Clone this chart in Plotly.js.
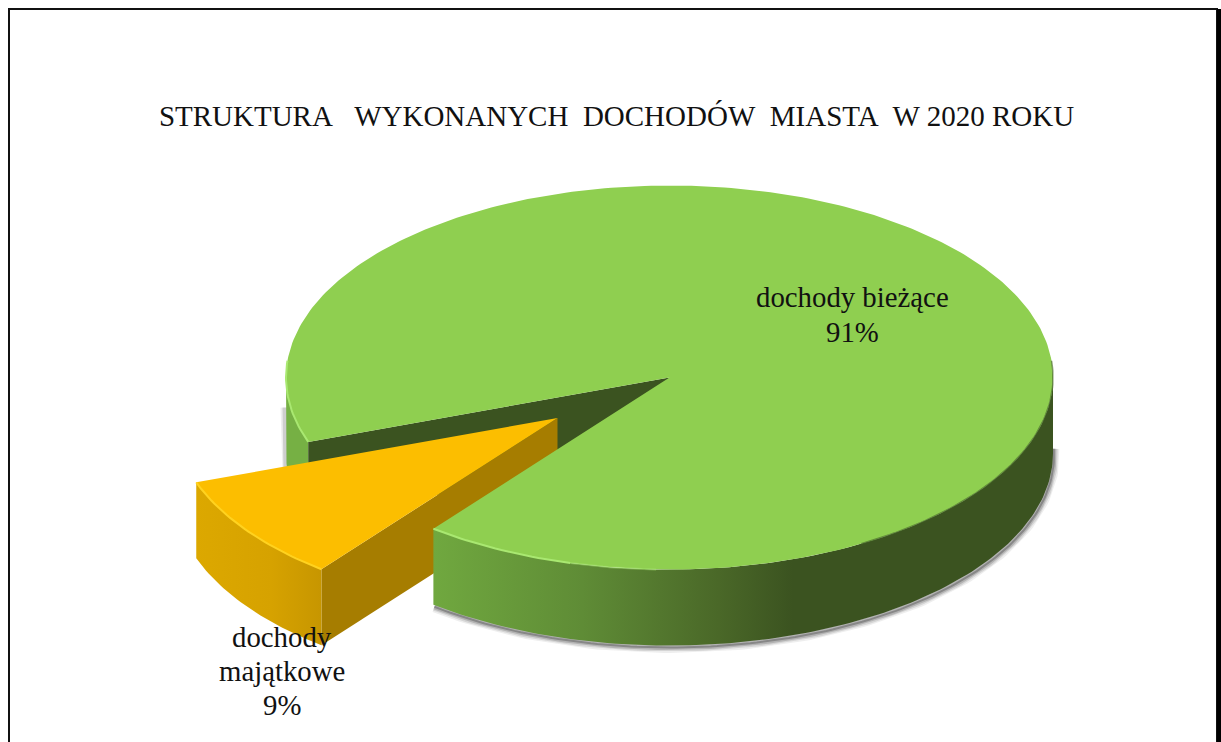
<!DOCTYPE html>
<html><head><meta charset="utf-8">
<script src="https://cdn.plot.ly/plotly-3.0.1.min.js"></script>
<style>html,body{margin:0;padding:0;background:#fff;overflow:hidden}#c{width:1221px;height:742px}</style>
</head><body><div id="c"></div>
<script>
// ---- data ----
const categories = ["dochody bieżące", "dochody majątkowe"];
const labelLines = [["dochody bieżące", "91%"], ["dochody", "majątkowe", "9%"]];
const values = [91, 9];
const chartTitle = "STRUKTURA\u00A0\u00A0 WYKONANYCH\u00A0 DOCHODÓW\u00A0 MIASTA\u00A0 W 2020 ROKU";

// ---- projection of the tilted pie onto the page ----
const CX = 669.5, CY = 377.5, RX = 383.5, RY = 192, DEPTH = 76, PULL = 0.36, START = 128;
const total = values.reduce((a, b) => a + b, 0);
const goldSweep = values[1] / total * 360;
const gold0 = START, gold1 = START + goldSweep, goldMid = (gold0 + gold1) / 2;
const green0 = gold1, green1 = START + 360;
const rad = d => d * Math.PI / 180;
const goldCX = CX + PULL * RX * Math.cos(rad(goldMid));
const goldCY = CY + PULL * RY * Math.sin(rad(goldMid));

function pt(cx, cy, a, dy = 0) { return [cx + RX * Math.cos(rad(a)), cy + RY * Math.sin(rad(a)) + dy]; }
function arc(cx, cy, a0, a1, dy = 0) {
  const out = [], n = Math.max(2, Math.ceil(Math.abs(a1 - a0)));
  for (let i = 0; i <= n; i++) out.push(pt(cx, cy, a0 + (a1 - a0) * i / n, dy));
  return out;
}
function poly(points, color, extra = {}) {
  return Object.assign({ type: 'scatter', mode: 'lines', x: points.map(p => p[0]), y: points.map(p => p[1]),
    fill: 'toself', fillcolor: color, line: { width: 0, color: color }, hoverinfo: 'skip', showlegend: false }, extra);
}
function stroke(points, color, width, dx = 0, dy = 0) {
  return { type: 'scatter', mode: 'lines', x: points.map(p => p[0] + dx), y: points.map(p => p[1] + dy),
    line: { color: color, width: width, shape: 'linear' }, hoverinfo: 'skip', showlegend: false };
}
function wall(cx, cy, a0, a1) { return arc(cx, cy, a0, a1).concat(arc(cx, cy, a1, a0, DEPTH)); }

const traces = [];
// soft shadow under the green slice
const shadowArc = arc(CX, CY, -2, 128, DEPTH);
[[11, 'rgba(90,90,90,0.10)'], [8, 'rgba(90,90,90,0.16)'], [5, 'rgba(80,80,80,0.25)'], [2, 'rgba(70,70,70,0.40)']]
  .forEach(s => traces.push(stroke(shadowArc, s[1], s[0], 1, 2)));
const leftShadow = [pt(CX, CY, 180, 30)].concat(arc(CX, CY, 180, 172, DEPTH));
[[9, 'rgba(90,90,90,0.10)'], [5, 'rgba(80,80,80,0.20)']].forEach(s => traces.push(stroke(leftShadow, s[1], s[0], -1, 0)));

// green left wall
traces.push(poly(wall(CX, CY, green0, 180), '#76B044'));
// green cut face seen through the gap
const nCorner = pt(CX, CY, green0);
traces.push(poly([[CX, CY], nCorner, [nCorner[0], nCorner[1] + DEPTH], [CX, CY + DEPTH]], '#3B5320'));

// gold slice: cut face, outer wall, top
const g0 = pt(goldCX, goldCY, gold0), g1 = pt(goldCX, goldCY, gold1);
traces.push(poly([[goldCX, goldCY], g0, [g0[0], g0[1] + DEPTH], [goldCX, goldCY + DEPTH]], '#A67D00'));
traces.push(poly(wall(goldCX, goldCY, gold0, gold1), '#D2A000', {
  fillgradient: { type: 'horizontal', colorscale: [[0, '#DCA800'], [0.6, '#D6A200'], [1, '#C79600']] } }));
traces.push(poly([[goldCX, goldCY]].concat(arc(goldCX, goldCY, gold0, gold1)), '#FCBE00'));
traces.push(stroke(arc(goldCX, goldCY, gold0, gold1), '#FFD21F', 2));

// green front wall
traces.push(poly(wall(CX, CY, 0, 128), '#3B5320', {
  fillgradient: { type: 'horizontal', colorscale: [
    [0, '#70A83F'], [0.24, '#5F8C36'], [0.46, '#4A6828'], [0.58, '#3B5320'], [1, '#3B5320']] } }));

// green top
traces.push(poly([[CX, CY]].concat(arc(CX, CY, green0, green1)), '#8FCF50'));
// rims
traces.push(stroke(arc(CX, CY, 128, 105), '#A9E871', 2));
traces.push(stroke(arc(CX, CY, 105, 92), 'rgba(169,232,113,0.45)', 2));
traces.push(stroke(arc(CX, CY, green0, 185), '#A9E871', 2));
traces.push(stroke(arc(CX, CY, 60, -5), 'rgba(70,105,40,0.65)', 1.5));

const serif = '"Liberation Serif","Times New Roman",serif';
const labelAnchors = [{ x: 852, y: 297, step: 35 }, { x: 282, y: 637, step: 34 }];
const annotations = labelLines.flatMap((lines, i) => lines.map((t, j) => ({
  x: labelAnchors[i].x, y: labelAnchors[i].y + j * labelAnchors[i].step, text: t,
  xref: 'x', yref: 'y', showarrow: false, align: 'center',
  font: { family: serif, size: 28.8, color: '#111' } })));

const layout = {
  width: 1221, height: 742, margin: { l: 0, r: 0, t: 0, b: 0 },
  paper_bgcolor: '#fff', plot_bgcolor: '#fff', showlegend: false,
  title: { text: chartTitle, x: 616.5 / 1221, xanchor: 'center', y: 1 - 116 / 742, yanchor: 'middle',
    font: { family: serif, size: 29, color: '#111' } },
  xaxis: { range: [0, 1221], visible: false, fixedrange: true },
  yaxis: { range: [742, 0], visible: false, fixedrange: true },
  annotations,
  shapes: [
    { type: 'rect', layer: 'below', xref: 'x', yref: 'y', x0: 9, y0: 9, x1: 1217, y1: 780, line: { color: '#111', width: 2 } },
    { type: 'rect', layer: 'below', xref: 'x', yref: 'y', x0: 1217, y0: 9, x1: 1221, y1: 742, fillcolor: '#000', line: { width: 0 } }
  ]
};
Plotly.newPlot('c', traces, layout, { displayModeBar: false, staticPlot: true });
</script></body></html>
